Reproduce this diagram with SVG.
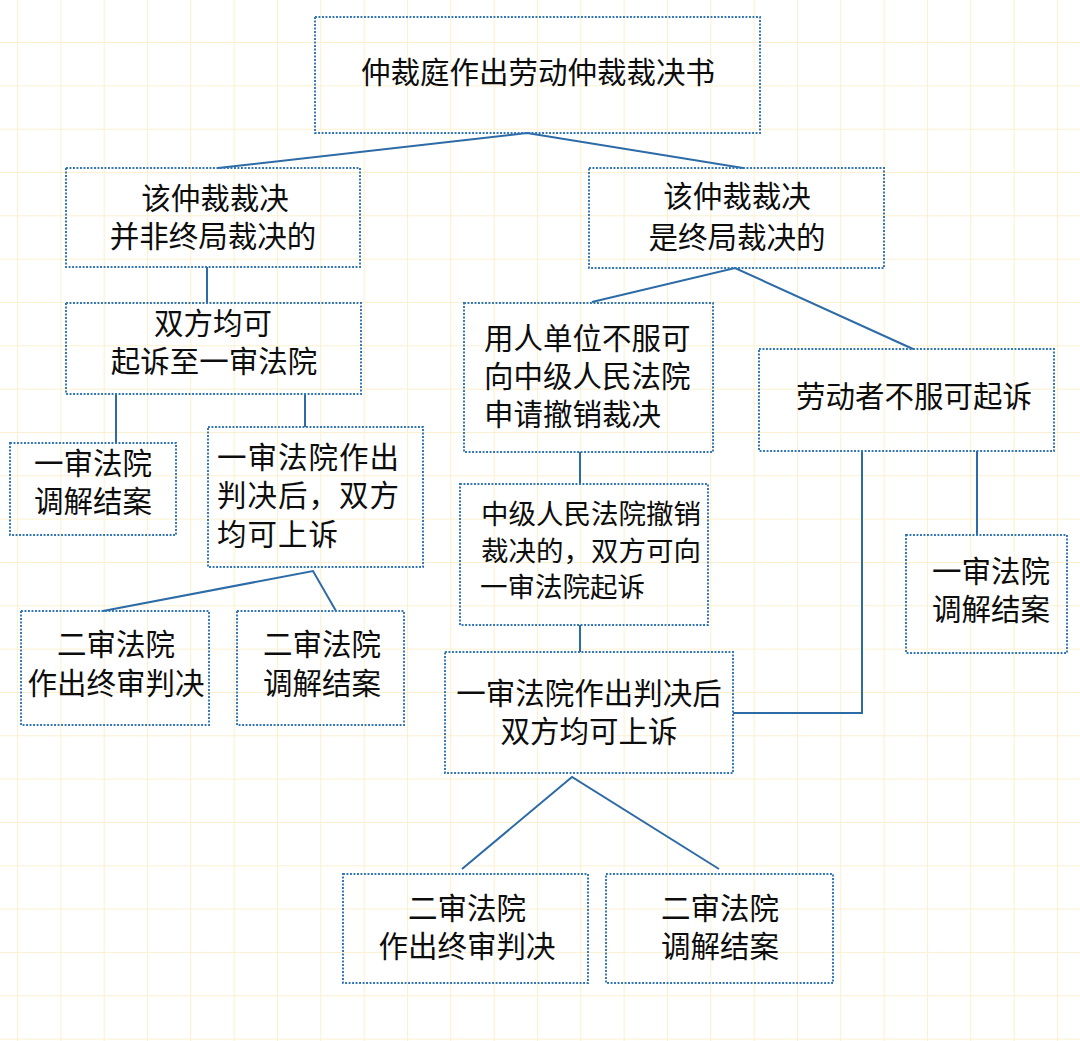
<svg xmlns="http://www.w3.org/2000/svg" width="1080" height="1041" viewBox="0 0 1080 1041">
<defs>
<pattern id="grid" x="17" y="42" width="43.33" height="43.33" patternUnits="userSpaceOnUse">
<path d="M0 0H43.33M0 0V43.33" fill="none" stroke="#fbf0cf" stroke-width="2.2"/>
</pattern>
<style>
.box{fill:none;stroke:#2f74b5;stroke-width:1.9;stroke-dasharray:1.9 1.6;}
.t{font-family:"Noto Sans CJK SC","Noto Sans",sans-serif;font-size:29.5px;fill:#0d0d0d;}
.s{font-size:27.5px;}
.b{letter-spacing:1px;}
.c{text-anchor:middle;}
.ln{fill:none;stroke:#2c6ba6;stroke-width:2;}
</style>
</defs>
<rect width="1080" height="1041" fill="#ffffff"/>
<rect width="1080" height="1041" fill="url(#grid)"/>

<g id="connectors">
<polyline class="ln" points="218,168 527,133 743,168"/>
<line class="ln" x1="207" y1="267" x2="207" y2="303"/>
<polyline class="ln" points="592,302 735,268 913,349"/>
<line class="ln" x1="116" y1="394" x2="116" y2="443"/>
<line class="ln" x1="305" y1="394" x2="305" y2="427"/>
<polyline class="ln" points="103,611 313,571 336,611"/>
<line class="ln" x1="580" y1="452" x2="580" y2="484"/>
<line class="ln" x1="580" y1="625" x2="580" y2="652"/>
<polyline class="ln" points="862,451 862,713 733,713"/>
<line class="ln" x1="977" y1="451" x2="977" y2="535"/>
<polyline class="ln" points="462,869 572,777 719,869"/>
</g>

<g id="n-top">
<rect class="box" x="315" y="17" width="445" height="116"/>
<text class="t c" x="538" y="83">仲裁庭作出劳动仲裁裁决书</text>
</g>

<g id="n-nonfinal">
<rect class="box" x="66" y="168" width="294" height="99"/>
<text class="t c" x="215" y="209">该仲裁裁决</text>
<text class="t c" x="213" y="247">并非终局裁决的</text>
</g>

<g id="n-final">
<rect class="box" x="589" y="168" width="295" height="100"/>
<text class="t c" x="737" y="207">该仲裁裁决</text>
<text class="t c" x="737" y="248">是终局裁决的</text>
</g>

<g id="n-both-sue">
<rect class="box" x="66" y="303" width="295" height="91"/>
<text class="t c" x="213" y="334">双方均可</text>
<text class="t c" x="214" y="372">起诉至一审法院</text>
</g>

<g id="n-employer">
<rect class="box" x="464" y="303" width="249" height="149"/>
<text class="t" x="484" y="349">用人单位不服可</text>
<text class="t" x="484" y="387">向中级人民法院</text>
<text class="t" x="484" y="425">申请撤销裁决</text>
</g>

<g id="n-worker">
<rect class="box" x="759" y="349" width="295" height="102"/>
<text class="t" x="796" y="407">劳动者不服可起诉</text>
</g>

<g id="n-left-mediate1">
<rect class="box" x="10" y="443" width="166" height="92"/>
<text class="t c" x="93" y="474">一审法院</text>
<text class="t c" x="93" y="512">调解结案</text>
</g>

<g id="n-left-judge1">
<rect class="box" x="208" y="427" width="215" height="140"/>
<text class="t b" x="217" y="468">一审法院作出</text>
<text class="t b" x="217" y="506">判决后，双方</text>
<text class="t b" x="217" y="545">均可上诉</text>
</g>

<g id="n-left-final2">
<rect class="box" x="21" y="611" width="188" height="114"/>
<text class="t c" x="116" y="655">二审法院</text>
<text class="t c" x="116" y="694">作出终审判决</text>
</g>

<g id="n-left-mediate2">
<rect class="box" x="237" y="611" width="167" height="114"/>
<text class="t c" x="322" y="655">二审法院</text>
<text class="t c" x="322" y="694">调解结案</text>
</g>

<g id="n-revoke">
<rect class="box" x="460" y="484" width="248" height="141"/>
<text class="t s" x="481" y="524">中级人民法院撤销</text>
<text class="t s" x="481" y="561">裁决的，双方可向</text>
<text class="t s" x="480" y="597">一审法院起诉</text>
</g>

<g id="n-right-mediate1">
<rect class="box" x="906" y="535" width="161" height="118"/>
<text class="t" x="932" y="582">一审法院</text>
<text class="t" x="932" y="620">调解结案</text>
</g>

<g id="n-mid-judge1">
<rect class="box" x="445" y="652" width="288" height="121"/>
<text class="t c" x="589" y="704">一审法院作出判决后</text>
<text class="t c" x="589" y="742">双方均可上诉</text>
</g>

<g id="n-bot-final2">
<rect class="box" x="343" y="874" width="245" height="109"/>
<text class="t c" x="467" y="919">二审法院</text>
<text class="t c" x="467" y="957">作出终审判决</text>
</g>

<g id="n-bot-mediate2">
<rect class="box" x="606" y="874" width="227" height="109"/>
<text class="t c" x="720" y="919">二审法院</text>
<text class="t c" x="720" y="957">调解结案</text>
</g>
</svg>
